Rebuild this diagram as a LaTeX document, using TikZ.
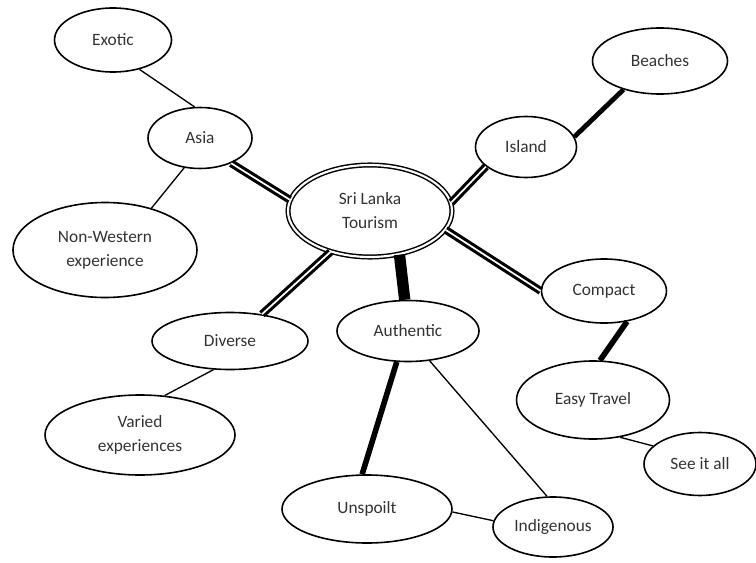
\documentclass[tikz,border=0pt]{standalone}
\usepackage{fontspec}
\setmainfont{Carlito}
\usepackage{tikz}
\usetikzlibrary{shapes.geometric}

\begin{document}
\begin{tikzpicture}[x=0.75pt, y=-0.75pt,
    bub/.style 2 args = {ellipse, draw, line width=1.2pt, fill=white,
        minimum width=#1*0.75pt, minimum height=#2*0.75pt, inner sep=0pt,
        align=center, text=black!80, font=\fontsize{13}{18}\selectfont},
    ]
        \tikzset{thin/.style = {line width=1pt}}
        \tikzset{thick/.style = {line width=4.2pt}}
        \tikzset{twin/.style = {double, line width=2.3pt, double distance=1.3pt}}
    \useasboundingbox (0,0) rectangle (756,563);
    \node[bub={164}{92}, double, double distance=1.6pt, line width=1.1pt] at (370,211) (slt) {Sri Lanka\\Tourism};
    \node[bub={117}{64}] at (113,40) (exotic) {Exotic};
    \node[bub={104}{61}] at (200,138) (asia) {Asia};
    \node[bub={184}{95}] at (105,250) (nonwest) {Non-Western\\experience};
    \node[bub={101}{61}] at (526,147) (island) {Island};
    \node[bub={135}{66}] at (660,61) (beach) {Beaches};
    \node[bub={156}{57}] at (230,341) (diverse) {Diverse};
    \node[bub={190}{80}] at (140,435) (varied) {Varied\\experiences};
    \node[bub={142}{61}] at (408,331) (auth) {Authentic};
    \node[bub={170}{68}] at (367,509) (unspoilt) {Unspoilt};
    \node[bub={120}{60}] at (553,527) (indig) {Indigenous};
    \node[bub={125}{64}] at (604,291) (compact) {Compact};
    \node[bub={153}{78}] at (593,400) (easy) {Easy Travel};
    \node[bub={112}{63}] at (700,464) (seeall) {See it all};

\path
    (exotic.-48) edge[thin] (asia.100)
    (asia.-118) edge[thin] (nonwest.42)
    (asia.-39) edge[twin] (slt.172)
    (slt.6) edge[twin] (island.-154)
    (island.12) edge[line width=3.6pt] (beach.-142)
    (slt.-14) edge[twin] (compact.180)
    (compact.-53) edge[thick] (easy.80)
    (easy.-54) edge[thin] (seeall.159)
    (slt.-134) edge[twin] (diverse.40)
    (diverse.-120) edge[thin] (varied.58)
    (slt.-56) edge[line width=8.5pt] (auth.96)
    (auth.-110) edge[thick] (unspoilt.98)
    (auth.-54) edge[thin] (indig.101)
    (unspoilt.-2) edge[thin] (indig.174);

\end{tikzpicture}
\end{document}
